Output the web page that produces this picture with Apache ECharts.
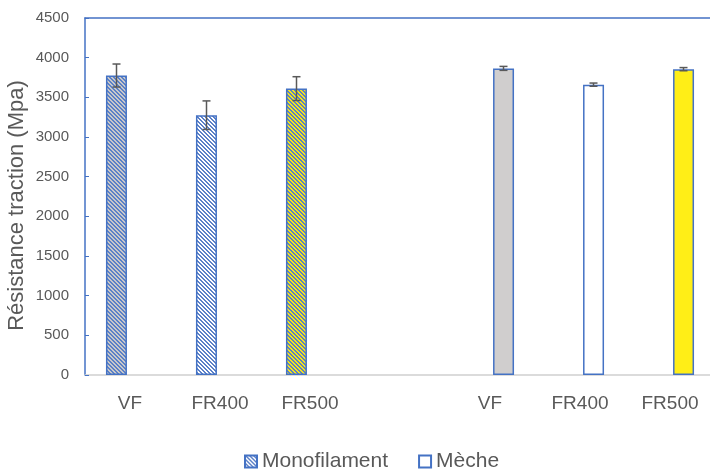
<!DOCTYPE html>
<html>
<head>
<meta charset="utf-8">
<script src="https://cdn.jsdelivr.net/npm/echarts@6/dist/echarts.min.js"></script>
<style>
html,body{margin:0;padding:0;background:#fff;}
#chart{width:710px;height:469px;}
</style>
</head>
<body>
<div id="chart"></div>
<script>
// ---- data ----
const categories = ['VF', 'FR400', 'FR500', '', 'VF', 'FR400', 'FR500'];
const monofilament = [3775, 3275, 3610, null, null, null, null];
const monofilamentErr = [145, 180, 150, null, null, null, null];
const meche = [null, null, null, null, 3865, 3660, 3855];
const mecheErr = [null, null, null, null, 25, 20, 20];
const yTicks = { min: 0, max: 4500, interval: 500 };
const seriesNames = ['Monofilament', 'Mèche'];

// ---- styles ----
const BLUE = '#4472C4';
const TXT = '#595959';
const FONT = '"Liberation Sans", Arial, sans-serif';

function hatch(bg, fg) {
  const c = document.createElement('canvas');
  c.width = 4; c.height = 4;
  const g = c.getContext('2d');
  g.fillStyle = bg; g.fillRect(0, 0, 4, 4);
  g.fillStyle = fg;
  for (let y = 0; y < 4; y++) {
    for (let x = 0; x < 4; x++) {
      const k = ((x - y) % 4 + 4) % 4;
      if (k === 0 || k === 1) g.fillRect(x, y, 1, 1);
    }
  }
  return { image: c, repeat: 'repeat' };
}
const monoFills = [hatch('#C9C9C9', '#5B80C8'), hatch('#FFFFFF', '#5B80C8'), hatch('#F5E51A', '#5B80C8')];
const mecheFills = ['#D0CECE', '#FFFFFF', '#FFEE17'];

const BAR_W = 21;
const BAR_GAP_PX = 6;
const OFFSET = (BAR_W + BAR_GAP_PX) / 2;

function barData(vals, fills, startIdx) {
  return vals.map((v, i) => v == null ? null : {
    value: v,
    itemStyle: { color: fills[i - startIdx] }
  });
}

function errData(vals, errs) {
  const out = [];
  vals.forEach((v, i) => { if (v != null) out.push([i, v - errs[i], v + errs[i]]); });
  return out;
}

function errRender(dx) {
  return function (params, api) {
    const idx = api.value(0);
    const lo = api.coord([idx, api.value(1)]);
    const hi = api.coord([idx, api.value(2)]);
    const x = lo[0] + dx;
    const cap = 4;
    const style = { stroke: '#595959', lineWidth: 1.5 };
    return {
      type: 'group',
      children: [
        { type: 'line', shape: { x1: x, y1: lo[1], x2: x, y2: hi[1] }, style },
        { type: 'line', shape: { x1: x - cap, y1: lo[1], x2: x + cap, y2: lo[1] }, style },
        { type: 'line', shape: { x1: x - cap, y1: hi[1], x2: x + cap, y2: hi[1] }, style }
      ]
    };
  };
}

const chart = echarts.init(document.getElementById('chart'), null, { renderer: 'canvas' });
chart.setOption({
  animation: false,
  backgroundColor: '#fff',
  textStyle: { fontFamily: FONT },
  grid: { left: 85, top: 18, width: 630, height: 357, containLabel: false, outerBoundsMode: 'none' },
  legend: {
    data: seriesNames,
    left: 239,
    top: 446,
    itemWidth: 12,
    itemHeight: 12,
    itemGap: 30,
    icon: 'rect',
    textStyle: { color: TXT, fontSize: 21, fontFamily: FONT }
  },
  xAxis: [
    {
      type: 'category',
      data: categories,
      axisLine: { lineStyle: { color: '#D0D0D0', width: 1.5 } },
      axisTick: { show: false },
      axisLabel: { color: TXT, fontSize: 19, margin: 19, fontFamily: FONT, interval: 0 }
    },
    {
      type: 'category',
      data: categories,
      position: 'top',
      axisLine: { lineStyle: { color: BLUE, width: 1.5 } },
      axisTick: { show: false },
      axisLabel: { show: false }
    }
  ],
  yAxis: {
    type: 'value',
    min: yTicks.min,
    max: yTicks.max,
    interval: yTicks.interval,
    name: 'Résistance traction (Mpa)',
    nameLocation: 'middle',
    nameGap: 57,
    nameMoveOverlap: false,
    nameTextStyle: { color: TXT, fontSize: 22, fontFamily: FONT, padding: [0, 18, 0, 0] },
    axisLine: { show: true, lineStyle: { color: BLUE, width: 1.5 } },
    axisTick: { show: true, inside: true, length: 4, lineStyle: { color: BLUE, width: 1 } },
    axisLabel: { color: TXT, fontSize: 15, margin: 16, fontFamily: FONT, formatter: v => String(v) },
    splitLine: { show: false }
  },
  series: [
    {
      name: seriesNames[0],
      type: 'bar',
      barWidth: BAR_W,
      barGap: (BAR_GAP_PX / BAR_W * 100).toFixed(0) + '%',
      itemStyle: { color: hatch('#FFFFFF', '#5B80C8'), borderColor: BLUE, borderWidth: 1.5 },
      data: barData(monofilament, monoFills, 0),
      z: 2
    },
    {
      name: seriesNames[1],
      type: 'bar',
      barWidth: BAR_W,
      itemStyle: { color: '#FFFFFF', borderColor: BLUE, borderWidth: 1.5 },
      data: barData(meche, mecheFills, 4),
      z: 2
    },
    {
      type: 'custom',
      renderItem: errRender(-OFFSET),
      data: errData(monofilament, monofilamentErr),
      encode: { x: 0, y: [1, 2] },
      z: 5,
      silent: true
    },
    {
      type: 'custom',
      renderItem: errRender(OFFSET),
      data: errData(meche, mecheErr),
      encode: { x: 0, y: [1, 2] },
      z: 5,
      silent: true
    }
  ]
});
</script>
</body>
</html>
